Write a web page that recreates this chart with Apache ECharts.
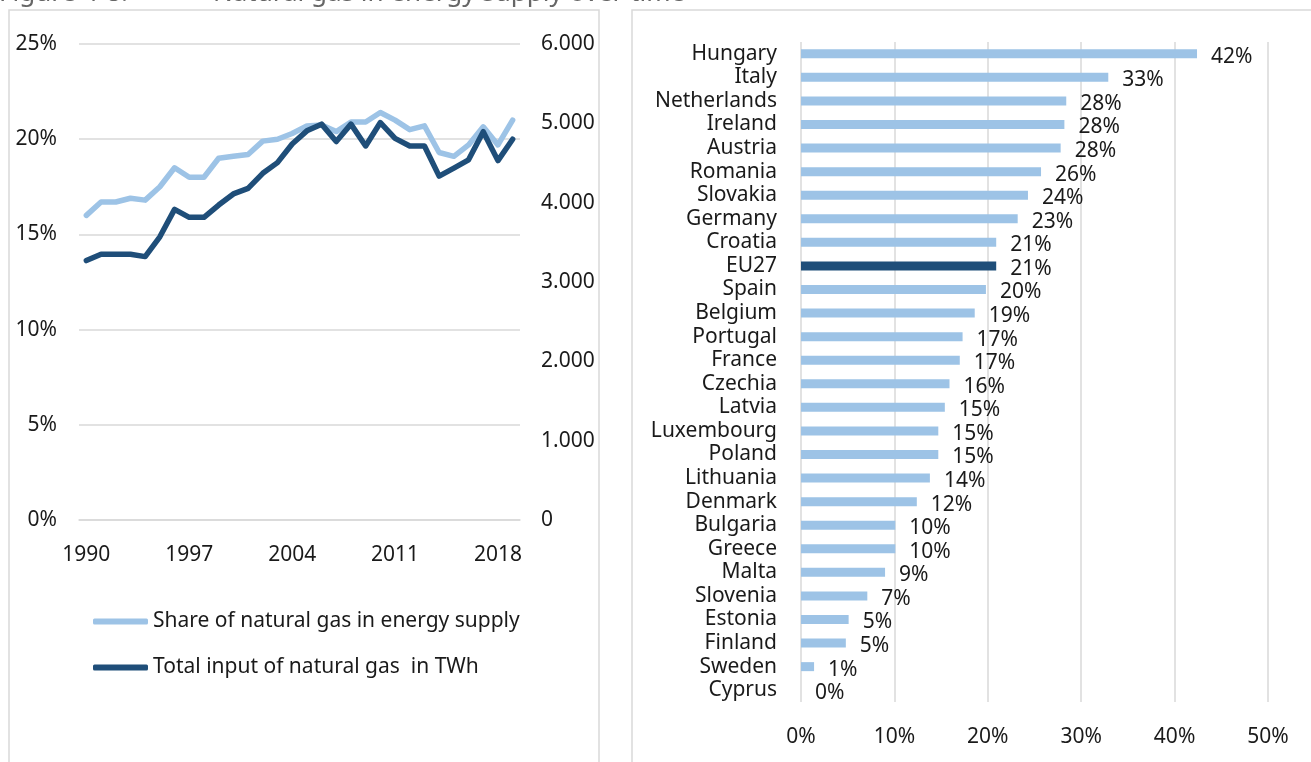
<!DOCTYPE html>
<html>
<head>
<meta charset="utf-8">
<title>Natural gas in energy supply over time</title>
<script src="https://cdn.jsdelivr.net/npm/echarts@6/dist/echarts.min.js"></script>
<style>
    html, body { margin: 0; padding: 0; background: #fff; }
    #main { width: 1311px; height: 762px; }
</style>
</head>
<body>
<div id="main"></div>
<script>
// left panel: time series 1990-2019
var years = ['1990', '1991', '1992', '1993', '1994', '1995', '1996', '1997', '1998', '1999',
    '2000', '2001', '2002', '2003', '2004', '2005', '2006', '2007', '2008', '2009',
    '2010', '2011', '2012', '2013', '2014', '2015', '2016', '2017', '2018', '2019'];
// share of natural gas in energy supply, %
var gasShare = [16.0, 16.7, 16.7, 16.9, 16.8, 17.5, 18.5, 18.0, 18.0, 19.0,
    19.1, 19.2, 19.9, 20.0, 20.3, 20.7, 20.75, 20.4, 20.9, 20.9,
    21.4, 21.0, 20.5, 20.7, 19.3, 19.1, 19.7, 20.65, 19.7, 21.0];
// total input of natural gas, TWh
var gasInput = [3270, 3350, 3350, 3350, 3320, 3570, 3915, 3815, 3815, 3970,
    4110, 4180, 4370, 4505, 4740, 4905, 4990, 4770, 4990, 4715,
    5010, 4810, 4715, 4715, 4335, 4435, 4540, 4895, 4530, 4800];

// right panel: share by country, %
var countries = ['Hungary', 'Italy', 'Netherlands', 'Ireland', 'Austria', 'Romania', 'Slovakia',
    'Germany', 'Croatia', 'EU27', 'Spain', 'Belgium', 'Portugal', 'France', 'Czechia', 'Latvia',
    'Luxembourg', 'Poland', 'Lithuania', 'Denmark', 'Bulgaria', 'Greece', 'Malta', 'Slovenia',
    'Estonia', 'Finland', 'Sweden', 'Cyprus'];
var countryShare = [42.4, 32.9, 28.4, 28.2, 27.8, 25.7, 24.3, 23.2, 20.9, 20.9, 19.8, 18.6, 17.3,
    17.0, 15.9, 15.4, 14.7, 14.7, 13.8, 12.4, 10.1, 10.1, 9.0, 7.1, 5.1, 4.8, 1.4, 0];

var lightBlue = '#9dc3e6';
var darkBlue = '#1f4e79';
var gridGrey = '#d9d9d9';
var textColor = '#1a1a1a';
var font = 'Noto Sans';
var fs = 21;

var barData = countries.map(function (c, i) {
    return {
        value: countryShare[i],
        itemStyle: { color: c === 'EU27' ? darkBlue : lightBlue }
    };
});

var chart = echarts.init(document.getElementById('main'));

var option = {
    animation: false,
    textStyle: { fontFamily: font },
    graphic: [
        { type: 'rect', shape: { x: 9, y: 10, width: 590, height: 770 },
          style: { fill: 'none', stroke: gridGrey, lineWidth: 1.5 } },
        { type: 'rect', shape: { x: 632, y: 10, width: 700, height: 770 },
          style: { fill: 'none', stroke: gridGrey, lineWidth: 1.5 } },
        { type: 'text', x: -1, y: 7,
          style: { text: 'Figure 4-8:', font: '26px "Noto Sans"', fill: '#666', verticalAlign: 'bottom' } },
        { type: 'text', x: 213, y: 7,
          style: { text: 'Natural gas in energy supply over time', font: '26px "Noto Sans"', fill: '#666', verticalAlign: 'bottom' } }
    ],
    legend: {
        left: 88,
        top: 606,
        orient: 'vertical',
        icon: 'roundRect',
        itemWidth: 55,
        itemHeight: 6,
        itemGap: 25,
        textStyle: { fontSize: fs, color: textColor, fontFamily: font },
        data: ['Share of natural gas in energy supply', 'Total input of natural gas  in TWh']
    },
    grid: [
        { left: 79, top: 44, width: 441, height: 476 },
        { left: 801, top: 42, width: 467, height: 660 }
    ],
    xAxis: [
        {
            gridIndex: 0,
            type: 'category',
            data: years,
            boundaryGap: true,
            axisLine: { lineStyle: { color: gridGrey, width: 1.5 } },
            axisTick: { inside: true, length: 5, interval: 0, lineStyle: { color: gridGrey } },
            axisLabel: { interval: 6, margin: 25, fontSize: fs, color: textColor, fontFamily: font }
        },
        {
            gridIndex: 1,
            type: 'value',
            min: 0,
            max: 50,
            interval: 10,
            axisLine: { show: false },
            axisTick: { show: false },
            splitLine: { lineStyle: { color: gridGrey, width: 1.5 } },
            axisLabel: { formatter: '{value}%', margin: 25, fontSize: fs, color: textColor, fontFamily: font }
        }
    ],
    yAxis: [
        {
            gridIndex: 0,
            type: 'value',
            min: 0,
            max: 25,
            interval: 5,
            axisLine: { show: false },
            axisTick: { show: false },
            splitLine: { lineStyle: { color: gridGrey, width: 1.5 } },
            axisLabel: { formatter: '{value}%', margin: 22, fontSize: fs, color: textColor, fontFamily: font }
        },
        {
            gridIndex: 0,
            type: 'value',
            position: 'right',
            min: 0,
            max: 6000,
            interval: 1000,
            axisLine: { show: false },
            axisTick: { show: false },
            splitLine: { show: false },
            axisLabel: {
                margin: 21, fontSize: fs, color: textColor, fontFamily: font,
                formatter: function (v) { return v === 0 ? '0' : (v / 1000).toFixed(3); }
            }
        },
        {
            gridIndex: 1,
            type: 'category',
            data: countries,
            inverse: true,
            axisLine: { show: false },
            axisTick: { show: false },
            axisLabel: { interval: 0, margin: 24, padding: [4, 0, 0, 0], fontSize: fs, color: textColor, fontFamily: font }
        }
    ],
    series: [
        {
            name: 'Share of natural gas in energy supply',
            type: 'line',
            xAxisIndex: 0,
            yAxisIndex: 0,
            data: gasShare,
            symbol: 'none',
            color: lightBlue,
            lineStyle: { width: 5.5, color: lightBlue, join: 'round', cap: 'round' }
        },
        {
            name: 'Total input of natural gas  in TWh',
            type: 'line',
            xAxisIndex: 0,
            yAxisIndex: 1,
            data: gasInput,
            symbol: 'none',
            color: darkBlue,
            lineStyle: { width: 5.5, color: darkBlue, join: 'round', cap: 'round' }
        },
        {
            type: 'bar',
            xAxisIndex: 1,
            yAxisIndex: 2,
            data: barData,
            barWidth: 9,
            label: {
                show: true,
                position: 'right',
                distance: 14,
                offset: [0, 3],
                fontSize: fs,
                color: textColor,
                fontFamily: font,
                formatter: function (p) { return Math.round(p.value) + '%'; }
            }
        }
    ]
};

chart.setOption(option);
</script>
</body>
</html>
